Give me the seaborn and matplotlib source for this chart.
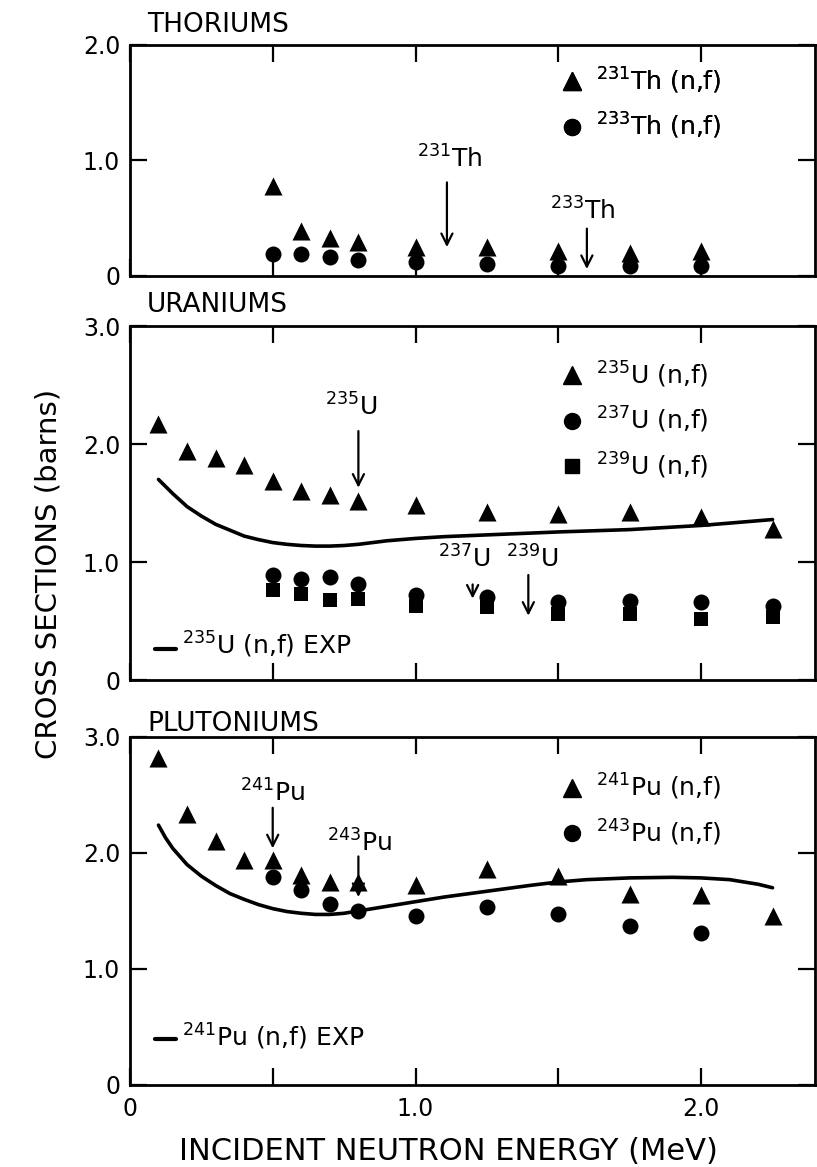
import matplotlib
matplotlib.use("Agg")
import matplotlib.pyplot as plt
import seaborn as sns
from matplotlib.lines import Line2D
from matplotlib.legend_handler import HandlerLine2D

sns.set_theme(style="ticks")
plt.rcParams["font.family"] = ["DejaVu Sans"]
plt.rcParams["mathtext.fontset"] = "dejavusans"
plt.rcParams["text.color"] = "black"
plt.rcParams["axes.labelcolor"] = "black"
plt.rcParams["xtick.color"] = "black"
plt.rcParams["ytick.color"] = "black"

# ---- Thorium isotopes (barns vs MeV) ----
th_energy = [0.5, 0.6, 0.7, 0.8, 1.0, 1.25, 1.5, 1.75, 2.0]
th231_nf = [0.78, 0.39, 0.33, 0.29, 0.25, 0.25, 0.22, 0.20, 0.22]
th233_nf = [0.19, 0.19, 0.165, 0.14, 0.12, 0.10, 0.09, 0.09, 0.09]

# ---- Uranium isotopes ----
u235_energy = [0.1, 0.2, 0.3, 0.4, 0.5, 0.6, 0.7, 0.8, 1.0, 1.25, 1.5, 1.75, 2.0, 2.25]
u235_nf = [2.17, 1.94, 1.88, 1.82, 1.69, 1.60, 1.57, 1.52, 1.48, 1.42, 1.41, 1.42, 1.38, 1.28]
u_heavy_energy = [0.5, 0.6, 0.7, 0.8, 1.0, 1.25, 1.5, 1.75, 2.0, 2.25]
u237_nf = [0.89, 0.86, 0.87, 0.81, 0.72, 0.70, 0.66, 0.67, 0.66, 0.63]
u239_nf = [0.76, 0.73, 0.68, 0.69, 0.63, 0.62, 0.56, 0.56, 0.52, 0.53]
u235_exp_energy = [0.1, 0.15, 0.2, 0.25, 0.3, 0.35, 0.4, 0.45, 0.5, 0.55, 0.6, 0.65,
                   0.7, 0.75, 0.8, 0.9, 1.0, 1.1, 1.25, 1.5, 1.75, 2.0, 2.25]
u235_exp = [1.70, 1.58, 1.47, 1.39, 1.32, 1.27, 1.22, 1.19, 1.165, 1.15, 1.14, 1.135,
            1.135, 1.14, 1.15, 1.18, 1.20, 1.215, 1.23, 1.255, 1.275, 1.31, 1.36]

# ---- Plutonium isotopes ----
pu241_energy = [0.1, 0.2, 0.3, 0.4, 0.5, 0.6, 0.7, 0.8, 1.0, 1.25, 1.5, 1.75, 2.0, 2.25]
pu241_nf = [2.82, 2.34, 2.10, 1.94, 1.94, 1.81, 1.75, 1.75, 1.72, 1.86, 1.80, 1.65, 1.64, 1.46]
pu243_energy = [0.5, 0.6, 0.7, 0.8, 1.0, 1.25, 1.5, 1.75, 2.0]
pu243_nf = [1.79, 1.68, 1.56, 1.50, 1.46, 1.53, 1.47, 1.37, 1.31]
pu241_exp_energy = [0.1, 0.125, 0.15, 0.2, 0.25, 0.3, 0.35, 0.4, 0.45, 0.5, 0.55, 0.6,
                    0.65, 0.7, 0.75, 0.8, 0.9, 1.0, 1.1, 1.25, 1.4, 1.5, 1.6, 1.75,
                    1.9, 2.0, 2.1, 2.2, 2.25]
pu241_exp = [2.24, 2.13, 2.04, 1.90, 1.80, 1.72, 1.65, 1.60, 1.555, 1.52, 1.495, 1.48,
             1.47, 1.47, 1.48, 1.50, 1.54, 1.58, 1.62, 1.67, 1.72, 1.75, 1.77, 1.785,
             1.79, 1.785, 1.77, 1.73, 1.70]

x_ticks = [0, 0.5, 1.0, 1.5, 2.0]
x_ticklabels = ["0", "", "1.0", "", "2.0"]

TICK_FS = 17
LEG_FS = 18
TITLE_FS = 19
XLABEL_FS = 22
YLABEL_FS = 21
TRI_MS, CIR_MS, SQ_MS = 13, 11.5, 10.5


def iso(mass, sym):
    return r"$\mathregular{^{%s}}$%s" % (mass, sym)


class LowLine(HandlerLine2D):
    """Legend line sitting a little below the text centre."""
    def __init__(self, drop=0.0, **kw):
        super().__init__(**kw)
        self.drop = drop

    def create_artists(self, legend, orig_handle, xdescent, ydescent,
                       width, height, fontsize, trans):
        arts = super().create_artists(legend, orig_handle, xdescent, ydescent,
                                      width, height, fontsize, trans)
        for a in arts:
            y = a.get_ydata()
            a.set_ydata([v - self.drop * height for v in y])
        return arts


def style_axes(ax, ymax, yticks, yticklabels, show_x):
    ax.set_xlim(0, 2.4)
    ax.set_ylim(0, ymax)
    ax.set_xticks(x_ticks)
    ax.set_xticklabels(x_ticklabels if show_x else [""] * len(x_ticks))
    ax.set_yticks(yticks)
    ax.set_yticklabels(yticklabels)
    ax.tick_params(direction="in", length=12, width=1.6, top=True, right=True,
                   labelsize=TICK_FS, colors="black")
    ax.tick_params(axis="y", pad=7)
    ax.tick_params(axis="x", pad=9)
    for s in ax.spines.values():
        s.set_linewidth(2.0)
        s.set_color("black")
    ax.set_xlabel("")
    ax.set_ylabel("")


def scatter(ax, x, y, marker, ms):
    sns.scatterplot(x=x, y=y, marker=marker, s=ms ** 2, color="black",
                    linewidth=0, ax=ax, zorder=3)


def curve(ax, x, y):
    sns.lineplot(x=x, y=y, color="black", lw=2.6, ax=ax, zorder=2,
                 solid_capstyle="round", solid_joinstyle="round")


def arrow(ax, x, tail, tip):
    ax.annotate("", xy=(x, tip), xytext=(x, tail),
                arrowprops=dict(arrowstyle="->", color="black", lw=1.6,
                                shrinkA=0, shrinkB=0, mutation_scale=20),
                zorder=2)


def marker_legend(ax, handles, labels, anchor):
    leg = ax.legend(handles, labels, loc="upper left", bbox_to_anchor=anchor,
                    frameon=False, fontsize=LEG_FS, handlelength=1.0,
                    handletextpad=0.45, labelspacing=0.62, borderpad=0,
                    borderaxespad=0)
    ax.add_artist(leg)


def exp_legend(ax, label, anchor, drop):
    h = Line2D([], [], color="black", lw=3)
    ax.legend([h], [label], loc="center left", bbox_to_anchor=anchor,
              frameon=False, fontsize=LEG_FS, handlelength=0.85,
              handletextpad=0.25, borderpad=0, borderaxespad=0,
              handler_map={h: LowLine(drop=drop)})


tri = Line2D([], [], ls="none", marker="^", ms=TRI_MS, color="black")
cir = Line2D([], [], ls="none", marker="o", ms=CIR_MS, color="black")
sq = Line2D([], [], ls="none", marker="s", ms=SQ_MS, color="black")

fig = plt.figure(figsize=(8.17, 11.67), dpi=100)
L, W = 0.159, 0.839
ax_th = fig.add_axes([L, 0.7635, W, 0.198])
ax_u = fig.add_axes([L, 0.4173, W, 0.3033])
ax_pu = fig.add_axes([L, 0.0703, W, 0.2982])

# ---- Thoriums ----
scatter(ax_th, th_energy, th231_nf, "^", TRI_MS)
scatter(ax_th, th_energy, th233_nf, "o", CIR_MS)
arrow(ax_th, 1.11, 0.81, 0.25)
arrow(ax_th, 1.60, 0.41, 0.06)
ax_th.text(1.12, 0.94, iso("231", "Th"), ha="center", va="baseline", fontsize=LEG_FS)
ax_th.text(1.585, 0.49, iso("233", "Th"), ha="center", va="baseline", fontsize=LEG_FS)
marker_legend(ax_th, [tri, cir], [iso("231", "Th") + " (n,f)", iso("233", "Th") + " (n,f)"],
              (0.627, 0.911))
style_axes(ax_th, 2.0, [0, 1, 2], ["0", "1.0", "2.0"], False)
ax_th.text(0.025, 1.056, "THORIUMS", transform=ax_th.transAxes, ha="left",
           va="baseline", fontsize=TITLE_FS)

# ---- Uraniums ----
curve(ax_u, u235_exp_energy, u235_exp)
scatter(ax_u, u235_energy, u235_nf, "^", TRI_MS)
scatter(ax_u, u_heavy_energy, u237_nf, "o", CIR_MS)
scatter(ax_u, u_heavy_energy, u239_nf, "s", SQ_MS)
arrow(ax_u, 0.80, 2.11, 1.63)
arrow(ax_u, 1.20, 0.81, 0.69)
arrow(ax_u, 1.395, 0.89, 0.545)
ax_u.text(0.775, 2.24, iso("235", "U"), ha="center", va="baseline", fontsize=LEG_FS)
ax_u.text(1.17, 0.95, iso("237", "U"), ha="center", va="baseline", fontsize=LEG_FS)
ax_u.text(1.41, 0.95, iso("239", "U"), ha="center", va="baseline", fontsize=LEG_FS)
marker_legend(ax_u, [tri, cir, sq],
              [iso("235", "U") + " (n,f)", iso("237", "U") + " (n,f)", iso("239", "U") + " (n,f)"],
              (0.627, 0.906))
exp_legend(ax_u, iso("235", "U") + " (n,f) EXP", (0.036, 0.10), 0.25)
style_axes(ax_u, 3.0, [0, 1, 2, 3], ["0", "1.0", "2.0", "3.0"], False)
ax_u.text(0.025, 1.04, "URANIUMS", transform=ax_u.transAxes, ha="left",
          va="baseline", fontsize=TITLE_FS)

# ---- Plutoniums ----
curve(ax_pu, pu241_exp_energy, pu241_exp)
arrow(ax_pu, 0.50, 2.39, 2.04)
arrow(ax_pu, 0.80, 1.97, 1.62)
scatter(ax_pu, pu241_energy, pu241_nf, "^", TRI_MS)
scatter(ax_pu, pu243_energy, pu243_nf, "o", CIR_MS)
ax_pu.text(0.50, 2.44, iso("241", "Pu"), ha="center", va="baseline", fontsize=LEG_FS)
ax_pu.text(0.805, 2.01, iso("243", "Pu"), ha="center", va="baseline", fontsize=LEG_FS)
marker_legend(ax_pu, [tri, cir], [iso("241", "Pu") + " (n,f)", iso("243", "Pu") + " (n,f)"],
              (0.627, 0.899))
exp_legend(ax_pu, iso("241", "Pu") + " (n,f) EXP", (0.036, 0.138), 0.08)
style_axes(ax_pu, 3.0, [0, 1, 2, 3], ["0", "1.0", "2.0", "3.0"], True)
ax_pu.text(0.025, 1.017, "PLUTONIUMS", transform=ax_pu.transAxes, ha="left",
           va="baseline", fontsize=TITLE_FS)
ax_pu.set_xlabel("INCIDENT NEUTRON ENERGY (MeV)", fontsize=XLABEL_FS)
ax_pu.xaxis.label.set_va("center")
ax_pu.xaxis.set_label_coords(0.464, -0.19)

fig.text(49 / 817, 1 - 574 / 1167, "CROSS SECTIONS (barns)", rotation=90,
         ha="center", va="center", fontsize=YLABEL_FS)

fig.savefig("out.png", dpi=100, facecolor="white")
